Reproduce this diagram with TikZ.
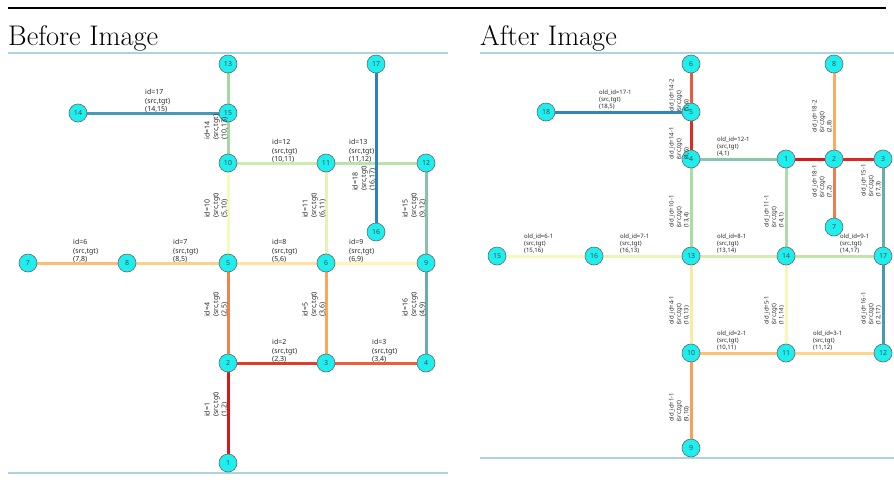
\documentclass[tikz,border=0pt]{standalone}
\usepackage{fontspec}
\newfontfamily\labelfont{Noto Sans}
\usetikzlibrary{backgrounds}

% vertex and rule colours
\definecolor{vtxcyan}{RGB}{30,238,238}
\definecolor{rulebl}{RGB}{168,212,228}
% before graph: edge colours by id
\definecolor{bc1}{RGB}{215,25,28}
\definecolor{bc2}{RGB}{224,60,44}
\definecolor{bc3}{RGB}{233,95,60}
\definecolor{bc4}{RGB}{242,130,77}
\definecolor{bc5}{RGB}{251,165,93}
\definecolor{bc6}{RGB}{253,188,114}
\definecolor{bc7}{RGB}{254,207,136}
\definecolor{bc8}{RGB}{254,226,158}
\definecolor{bc9}{RGB}{255,245,180}
\definecolor{bc10}{RGB}{245,251,188}
\definecolor{bc11}{RGB}{226,243,182}
\definecolor{bc12}{RGB}{206,235,175}
\definecolor{bc13}{RGB}{186,227,169}
\definecolor{bc14}{RGB}{163,216,165}
\definecolor{bc15}{RGB}{134,195,170}
\definecolor{bc16}{RGB}{103,173,176}
\definecolor{bc17}{RGB}{73,152,181}
\definecolor{bc18}{RGB}{43,131,186}
% after graph: edge colours
\definecolor{ac1}{RGB}{215,25,28}
\definecolor{ac2}{RGB}{222,40,34}
\definecolor{ac3}{RGB}{222,45,38}
\definecolor{ac4}{RGB}{233,90,58}
\definecolor{ac5}{RGB}{240,125,75}
\definecolor{ac6}{RGB}{248,160,90}
\definecolor{ac7}{RGB}{252,172,97}
\definecolor{ac8}{RGB}{253,192,117}
\definecolor{ac9}{RGB}{254,212,142}
\definecolor{ac10}{RGB}{254,232,165}
\definecolor{ac11}{RGB}{250,247,182}
\definecolor{ac12}{RGB}{246,250,188}
\definecolor{ac13}{RGB}{232,245,183}
\definecolor{ac14}{RGB}{212,237,177}
\definecolor{ac15}{RGB}{192,229,171}
\definecolor{ac16}{RGB}{172,220,165}
\definecolor{ac17}{RGB}{172,220,165}
\definecolor{ac18}{RGB}{140,198,168}
\definecolor{ac19}{RGB}{103,173,176}
\definecolor{ac20}{RGB}{75,152,181}
\definecolor{ac21}{RGB}{48,134,185}

\begin{document}
\begin{tikzpicture}[x=1pt, y=-1pt,
    vtx/.style={circle, draw=black!60, line width=0.6pt, fill=vtxcyan, minimum size=18pt, inner sep=0pt,
                font=\labelfont\fontsize{7}{7}\selectfont, text=black!70},
    edge/.style={line width=3pt},
    lab/.style={align=left, inner sep=0pt, text=black!85, anchor=south west,
                font=\labelfont\fontsize{7}{8.5}\selectfont},
    hlab/.style={lab},
    vlab/.style={lab, rotate=90},
    alab/.style={lab, font=\labelfont\fontsize{6}{7.4}\selectfont},
    ahlab/.style={alab},
    avlab/.style={alab, rotate=90}]
    \useasboundingbox (0,0) rectangle (894,483);

    % Rules and titles
    \draw[line width=2.5pt] (8,8) -- (886,8);
    \draw[rulebl, line width=1.2pt] (8,53) -- (448,53);
    \draw[rulebl, line width=1.2pt] (480,53) -- (894,53);
    \draw[rulebl, line width=1.2pt] (8,473) -- (448,473);
    \draw[rulebl, line width=1.2pt] (480,458) -- (894,458);
    \node[anchor=base west, inner sep=0pt, font=\fontsize{28.4}{32}\selectfont] (tbefore) at (8,45) {Before Image};
    \node[anchor=base west, inner sep=0pt, font=\fontsize{28.4}{32}\selectfont] (tafter) at (480,45) {After Image};

    % Before graph: vertices
    \node[vtx] (b1) at (228,463) {1};
    \node[vtx] (b2) at (228,363) {2};
    \node[vtx] (b3) at (326,363) {3};
    \node[vtx] (b4) at (426,363) {4};
    \node[vtx] (b5) at (228,263) {5};
    \node[vtx] (b6) at (326,263) {6};
    \node[vtx] (b7) at (28,263) {7};
    \node[vtx] (b8) at (127,263) {8};
    \node[vtx] (b9) at (426,263) {9};
    \node[vtx] (b10) at (228,163) {10};
    \node[vtx] (b11) at (326,163) {11};
    \node[vtx] (b12) at (426,163) {12};
    \node[vtx] (b13) at (228,64) {13};
    \node[vtx] (b14) at (78,113) {14};
    \node[vtx] (b15) at (228,113) {15};
    \node[vtx] (b16) at (376,232) {16};
    \node[vtx] (b17) at (376,64) {17};

    % Before graph: edges
    \begin{scope}[on background layer]
        \draw[edge, bc1] (b1) -- (b2);
        \draw[edge, bc2] (b2) -- (b3);
        \draw[edge, bc3] (b3) -- (b4);
        \draw[edge, bc4] (b2) -- (b5);
        \draw[edge, bc5] (b3) -- (b6);
        \draw[edge, bc6] (b7) -- (b8);
        \draw[edge, bc7] (b8) -- (b5);
        \draw[edge, bc8] (b5) -- (b6);
        \draw[edge, bc9] (b6) -- (b9);
        \draw[edge, bc10] (b5) -- (b10);
        \draw[edge, bc11] (b6) -- (b11);
        \draw[edge, bc12] (b10) -- (b11);
        \draw[edge, bc13] (b11) -- (b12);
        \draw[edge, bc14] (b10) -- (b13);
        \draw[edge, bc15] (b9) -- (b12);
        \draw[edge, bc16] (b4) -- (b9);
        \draw[edge, bc17] (b14) -- (b15);
        \draw[edge, bc18] (b16) -- (b17);
    \end{scope}

    % Before graph: edge labels
    \node[vlab] (lb1) at (228,417) {id=1\\(src,tgt)\\(1,2)};
    \node[hlab] (lb2) at (272,363) {id=2\\(src,tgt)\\(2,3)};
    \node[hlab] (lb3) at (372,363) {id=3\\(src,tgt)\\(3,4)};
    \node[vlab] (lb4) at (228,317) {id=4\\(src,tgt)\\(2,5)};
    \node[vlab] (lb5) at (326,317) {id=5\\(src,tgt)\\(3,6)};
    \node[hlab] (lb6) at (73,263) {id=6\\(src,tgt)\\(7,8)};
    \node[hlab] (lb7) at (173,263) {id=7\\(src,tgt)\\(8,5)};
    \node[hlab] (lb8) at (272,263) {id=8\\(src,tgt)\\(5,6)};
    \node[hlab] (lb9) at (349,263) {id=9\\(src,tgt)\\(6,9)};
    \node[vlab] (lb10) at (228,218) {id=10\\(src,tgt)\\(5,10)};
    \node[vlab] (lb11) at (326,218) {id=11\\(src,tgt)\\(6,11)};
    \node[hlab] (lb12) at (272,163) {id=12\\(src,tgt)\\(10,11)};
    \node[hlab] (lb13) at (349,163) {id=13\\(src,tgt)\\(11,12)};
    \node[vlab] (lb14) at (228,140) {id=14\\(src,tgt)\\(10,13)};
    \node[vlab] (lb15) at (426,218) {id=15\\(src,tgt)\\(9,12)};
    \node[vlab] (lb16) at (426,317) {id=16\\(src,tgt)\\(4,9)};
    \node[hlab] (lb17) at (145,113) {id=17\\(src,tgt)\\(14,15)};
    \node[vlab] (lb18) at (376,191) {id=18\\(src,tgt)\\(16,17)};

    % After graph: vertices
    \node[vtx] (a1) at (786,159) {1};
    \node[vtx] (a2) at (834,159) {2};
    \node[vtx] (a3) at (883,159) {3};
    \node[vtx] (a4) at (691,159) {4};
    \node[vtx] (a5) at (691,112) {5};
    \node[vtx] (a6) at (691,64) {6};
    \node[vtx] (a7) at (834,227) {7};
    \node[vtx] (a8) at (834,64) {8};
    \node[vtx] (a9) at (691,448) {9};
    \node[vtx] (a10) at (691,353) {10};
    \node[vtx] (a11) at (786,353) {11};
    \node[vtx] (a12) at (883,353) {12};
    \node[vtx] (a13) at (691,256) {13};
    \node[vtx] (a14) at (786,256) {14};
    \node[vtx] (a15) at (497,256) {15};
    \node[vtx] (a16) at (594,256) {16};
    \node[vtx] (a17) at (883,256) {17};
    \node[vtx] (a18) at (546,112) {18};

    % After graph: edges
    \begin{scope}[on background layer]
        \draw[edge, ac1] (a1) -- (a2);
        \draw[edge, ac2] (a2) -- (a3);
        \draw[edge, ac3] (a4) -- (a5);
        \draw[edge, ac4] (a5) -- (a6);
        \draw[edge, ac5] (a7) -- (a2);
        \draw[edge, ac6] (a9) -- (a10);
        \draw[edge, ac7] (a2) -- (a8);
        \draw[edge, ac8] (a10) -- (a11);
        \draw[edge, ac9] (a11) -- (a12);
        \draw[edge, ac10] (a10) -- (a13);
        \draw[edge, ac11] (a11) -- (a14);
        \draw[edge, ac12] (a15) -- (a16);
        \draw[edge, ac13] (a16) -- (a13);
        \draw[edge, ac14] (a13) -- (a14);
        \draw[edge, ac15] (a14) -- (a17);
        \draw[edge, ac16] (a14) -- (a1);
        \draw[edge, ac17] (a13) -- (a4);
        \draw[edge, ac18] (a4) -- (a1);
        \draw[edge, ac19] (a17) -- (a3);
        \draw[edge, ac20] (a12) -- (a17);
        \draw[edge, ac21] (a18) -- (a5);
    \end{scope}

    % After graph: edge labels
    \node[avlab] (la1) at (689.5,422) {old\_id=1-1\\(src,tgt)\\(9,10)};
    \node[ahlab] (la2) at (717,351) {old\_id=2-1\\(src,tgt)\\(10,11)};
    \node[ahlab] (la3) at (813,351) {old\_id=3-1\\(src,tgt)\\(11,12)};
    \node[avlab] (la4) at (689.5,325) {old\_id=4-1\\(src,tgt)\\(10,13)};
    \node[avlab] (la5) at (784.5,325) {old\_id=5-1\\(src,tgt)\\(11,14)};
    \node[ahlab] (la6) at (524,254) {old\_id=6-1\\(src,tgt)\\(15,16)};
    \node[ahlab] (la7) at (620,254) {old\_id=7-1\\(src,tgt)\\(16,13)};
    \node[ahlab] (la8) at (717,254) {old\_id=8-1\\(src,tgt)\\(13,14)};
    \node[ahlab] (la9) at (840,254) {old\_id=9-1\\(src,tgt)\\(14,17)};
    \node[avlab] (la10) at (689.5,228) {old\_id=10-1\\(src,tgt)\\(13,4)};
    \node[avlab] (la11) at (784.5,228) {old\_id=11-1\\(src,tgt)\\(14,1)};
    \node[ahlab] (la12) at (717,157) {old\_id=12-1\\(src,tgt)\\(4,1)};
    \node[avlab] (la14a) at (689.5,160) {old\_id=14-1\\(src,tgt)\\(4,5)};
    \node[avlab] (la14b) at (689.5,112) {old\_id=14-2\\(src,tgt)\\(5,6)};
    \node[avlab] (la15) at (881.5,197) {old\_id=15-1\\(src,tgt)\\(17,3)};
    \node[avlab] (la16) at (881.5,325) {old\_id=16-1\\(src,tgt)\\(12,17)};
    \node[ahlab] (la17) at (599,110) {old\_id=17-1\\(src,tgt)\\(18,5)};
    \node[avlab] (la18a) at (832.5,198) {old\_id=18-1\\(src,tgt)\\(7,2)};
    \node[avlab] (la18b) at (832.5,133) {old\_id=18-2\\(src,tgt)\\(2,8)};
\end{tikzpicture}
\end{document}
